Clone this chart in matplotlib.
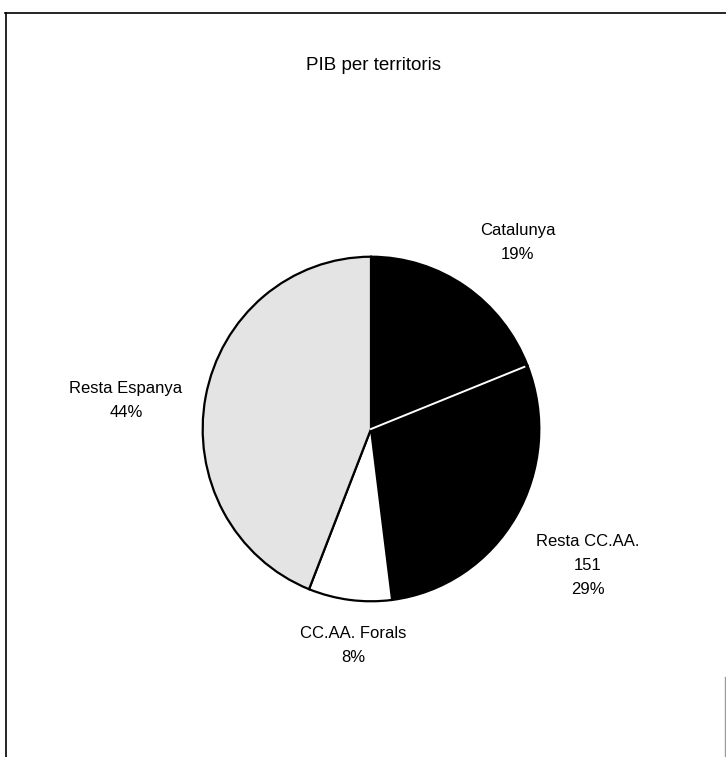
import matplotlib
matplotlib.use("Agg")
import matplotlib.pyplot as plt
from matplotlib.lines import Line2D
import numpy as np

# PIB per territoris (percent shares)
labels = ["Catalunya", "Resta CC.AA.\n151", "CC.AA. Forals", "Resta Espanya"]
shares = [19, 29, 8, 44]
colors = ["black", "black", "white", "#e4e4e4"]
# label centres in pixels (layout only)
label_xy = [(518, 242), (588, 565), (353, 646), (126, 400)]

W, H = 726, 757
plt.rcParams["font.family"] = ["Liberation Sans Narrow", "Liberation Sans", "DejaVu Sans"]
fig = plt.figure(figsize=(W / 100, H / 100), dpi=100)

# pie axes: centre ~ (371, 429), radius ~ 171 px
cx, cy, rx, ry = 371, 429, 170, 174
ax = fig.add_axes([(cx - rx) / W, (H - cy - ry) / H, 2 * rx / W, 2 * ry / H])
wedges, _ = ax.pie(shares, colors=colors, startangle=90, counterclock=False,
                   wedgeprops=dict(edgecolor="black", linewidth=1.6))
ax.set_aspect("auto")
ax.set_xlim(-1.01, 1.01)
ax.set_ylim(-1.01, 1.01)

# white boundary between the two black slices
t = np.deg2rad(wedges[0].theta1)
ax.plot([0, 0.98 * np.cos(t)], [0, 0.98 * np.sin(t)], color="white", lw=1.4)

for lab, s, (x, y) in zip(labels, shares, label_xy):
    fig.text(x / W, 1 - y / H, f"{lab}\n{s}%", ha="center", va="center",
             fontsize=12, linespacing=1.75)

fig.text(373 / W, 1 - 66 / H, "PIB per territoris", ha="center", va="center", fontsize=13.5)

# scanned frame
fig.add_artist(Line2D([5.5 / W, 5.5 / W], [0, 1 - 13 / H], color="black", lw=1.2))
fig.add_artist(Line2D([5 / W, 1], [1 - 13 / H, 1 - 13 / H], color="black", lw=1.2))
fig.add_artist(Line2D([724.5 / W, 724.5 / W], [0, 1 - 677 / H], color="#999999", lw=1))

fig.savefig("out.png", dpi=100)
